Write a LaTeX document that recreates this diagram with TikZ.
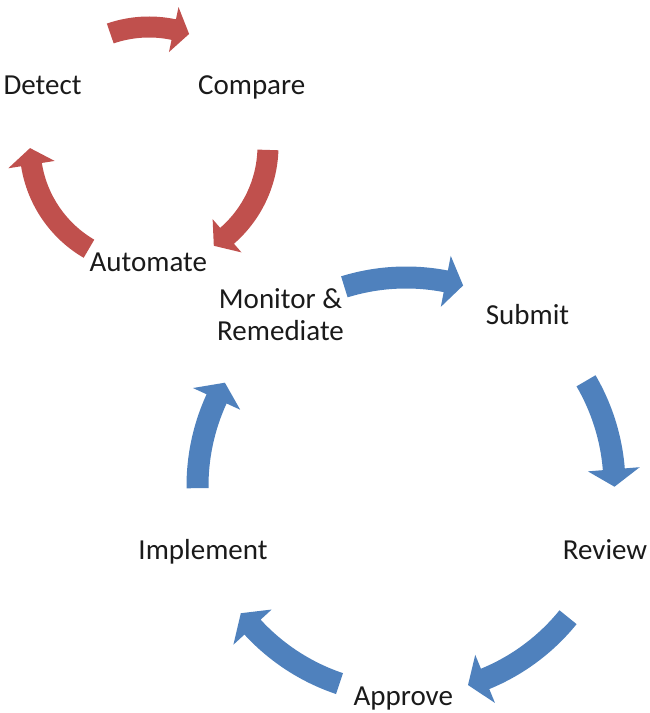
\documentclass[tikz,border=0pt]{standalone}
\usepackage{fontspec}
\setmainfont{Carlito}
\definecolor{cyclered}{HTML}{C0504D}
\definecolor{cycleblue}{HTML}{4F81BD}
\definecolor{labelink}{HTML}{1A1A1A}

% Curved block arrow around a centre: #1 centre, #2 radius,
% #3 tail angle, #4 head-base angle, #5 tip angle,
% #6 half body width, #7 half head width, #8 fill colour
\newcommand{\ringarrow}[8]{%
  \fill[#8, shift={(#1)}]
    ({#3}:{#2+#6}) arc[start angle={#3}, end angle={#4}, radius={#2+#6}]
    -- ({#4}:{#2+#7}) -- ({#5}:{#2}) -- ({#4}:{#2-#7})
    -- ({#4}:{#2-#6}) arc[start angle={#4}, end angle={#3}, radius={#2-#6}]
    -- cycle;}

\begin{document}
\begin{tikzpicture}[x=1pt, y=1pt,
  lbl/.style={text=labelink, inner sep=0pt, anchor=base,
    font=\fontsize{29}{31.5}\selectfont}]
  \useasboundingbox (0,0) rectangle (650,713);

  % ---- small cycle ----
  \coordinate (rc) at (149,567);
  \node[lbl] (detect)   at (42.5,618.7) {Detect};
  \node[lbl] (compare)  at (251.7,618.7) {Compare};
  \node[lbl] (automate) at (148.3,441.3) {Automate};

  \ringarrow{rc}{119}{109}{78}{70.3}{10.5}{23}{cyclered}
  \ringarrow{rc}{119}{-1.9}{-49}{-57}{10.5}{22}{cyclered}
  \ringarrow{rc}{119}{-120.3}{-171}{-179}{10.5}{23.5}{cyclered}

  % ---- large cycle ----
  \coordinate (bc) at (406,227);
  \node[lbl, anchor=center, align=center] (monitor) at (280.5,398.3)
    {Monitor \&\\Remediate};
  \node[lbl] (submit)    at (527.5,388) {Submit};
  \node[lbl] (review)    at (605,153) {Review};
  \node[lbl] (approve)   at (403.3,8) {Approve};
  \node[lbl] (implement) at (203,153) {Implement};

  \ringarrow{bc}{208.5}{107.2}{79}{74.1}{11}{26}{cycleblue}
  \ringarrow{bc}{208.5}{30.3}{4.6}{-0.2}{11}{26}{cycleblue}
  \ringarrow{bc}{208.5}{-39}{-67.7}{-72.7}{11}{26}{cycleblue}
  \ringarrow{bc}{208.5}{-108.6}{-137.4}{-142.4}{11}{26}{cycleblue}
  \ringarrow{bc}{208.5}{180.6}{155.3}{150.3}{11}{26}{cycleblue}
\end{tikzpicture}
\end{document}
